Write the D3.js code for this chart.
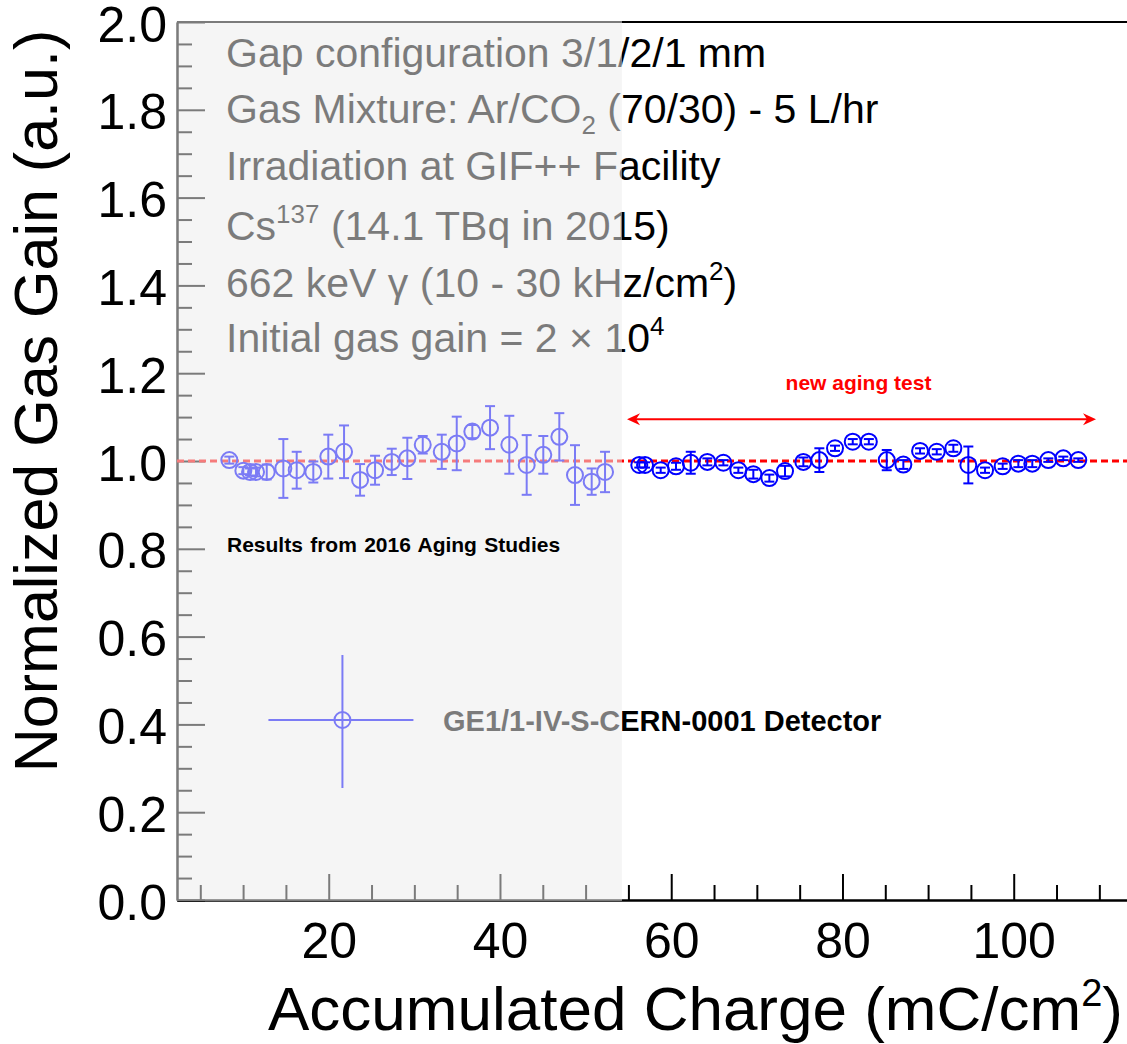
<!DOCTYPE html>
<html>
<head>
<meta charset="utf-8">
<script src="https://cdn.jsdelivr.net/npm/d3@7/dist/d3.min.js"></script>
<style>
  html, body { margin: 0; padding: 0; background: #fff; }
  svg { display: block; }
  text { font-family: "Liberation Sans", Arial, Helvetica, sans-serif; }
</style>
</head>
<body>
<svg id="chart" width="1127" height="1044"></svg>
<script>
// 2016 aging study: accumulated charge (mC/cm^2), normalized gain, error
const oldCharge = [8.39, 10.03, 10.81, 11.51, 12.76, 14.70, 16.26, 18.20, 19.95, 21.79,
  23.66, 25.41, 27.36, 29.18, 30.98, 33.20, 34.95, 36.77, 38.84, 41.09,
  43.12, 45.06, 46.93, 48.76, 50.71, 52.27];
const oldGain = [1.002, 0.978, 0.975, 0.975, 0.975, 0.983, 0.979, 0.975, 1.010, 1.021,
  0.957, 0.979, 0.998, 1.006, 1.037, 1.021, 1.040, 1.067, 1.076, 1.037,
  0.991, 1.014, 1.055, 0.968, 0.953, 0.975];
const oldErr = [0.008, 0.008, 0.008, 0.010, 0.017, 0.067, 0.042, 0.024, 0.050, 0.060,
  0.036, 0.033, 0.030, 0.047, 0.020, 0.039, 0.061, 0.015, 0.049, 0.066,
  0.068, 0.043, 0.054, 0.068, 0.030, 0.046];

// new aging test
const newCharge = [56.27, 56.94, 58.77, 60.56, 62.28, 64.22, 66.09, 67.84, 69.59, 71.46,
  73.29, 75.43, 77.30, 79.13, 81.20, 83.08, 85.17, 87.11, 89.06, 91.01,
  92.95, 94.70, 96.65, 98.71, 100.54, 102.17, 104.04, 105.79, 107.54];
const newGain = [0.991, 0.991, 0.979, 0.988, 0.996, 0.998, 0.996, 0.979, 0.970, 0.961,
  0.977, 0.998, 1.002, 1.029, 1.044, 1.044, 1.002, 0.992, 1.023, 1.021,
  1.029, 0.991, 0.979, 0.988, 0.994, 0.994, 1.002, 1.006, 1.002];
const newErr = [0.006, 0.006, 0.006, 0.008, 0.025, 0.008, 0.006, 0.006, 0.010, 0.008,
  0.012, 0.010, 0.027, 0.006, 0.006, 0.006, 0.023, 0.010, 0.006, 0.006,
  0.008, 0.042, 0.006, 0.006, 0.008, 0.008, 0.004, 0.004, 0.004];

const xMajorTicks = [20, 40, 60, 80, 100];
const xMinorTicks = [5, 10, 15, 25, 30, 35, 45, 50, 55, 65, 70, 75, 85, 90, 95, 105, 110];
const yMajorTicks = [0, 0.2, 0.4, 0.6, 0.8, 1.0, 1.2, 1.4, 1.6, 1.8, 2.0];
const yMinorTicks = d3.range(0, 41).map(i => i * 0.05).filter(v => Math.round(v * 100) % 20 !== 0);

const referenceGain = 1.0;
const oldRunEnd = 54.25;          // end of the 2016 campaign (shaded)
const arrowSpan = [54.84, 109.61]; // new aging test extent
const arrowLevel = 1.095;

const svg = d3.select("#chart");
const plot = { left: 177, right: 1127, top: 22, bottom: 900 };

const x = d3.scaleLinear().domain([2.28, 113.23]).range([plot.left, plot.right]);
const y = d3.scaleLinear().domain([0, 2]).range([plot.bottom, plot.top]);

const axisFont = 50;

// frame top line
svg.append("line")
  .attr("x1", plot.left).attr("x2", plot.right)
  .attr("y1", plot.top).attr("y2", plot.top)
  .attr("stroke", "#000").attr("stroke-width", 2);

// x axis (ticks point inward)
const gx = svg.append("g").attr("transform", `translate(0,${plot.bottom})`);
gx.call(d3.axisBottom(x).tickValues(xMinorTicks).tickFormat("").tickSizeInner(-15).tickSizeOuter(0));
const gxMaj = svg.append("g").attr("transform", `translate(0,${plot.bottom})`);
gxMaj.call(d3.axisBottom(x).tickValues(xMajorTicks).tickFormat(d3.format("d"))
  .tickSizeInner(-26).tickSizeOuter(0).tickPadding(22));
[gx, gxMaj].forEach(g => {
  g.selectAll("path.domain").attr("stroke", "#000").attr("stroke-width", 2);
  g.selectAll(".tick line").attr("stroke", "#000").attr("stroke-width", 2);
  g.selectAll(".tick text").attr("font-size", axisFont).attr("fill", "#000")
    .attr("font-family", "Liberation Sans, Arial, sans-serif");
});

// y axis
const gy = svg.append("g").attr("transform", `translate(${plot.left},0)`);
gy.call(d3.axisLeft(y).tickValues(yMinorTicks).tickFormat("").tickSizeInner(-15).tickSizeOuter(0));
const gyMaj = svg.append("g").attr("transform", `translate(${plot.left},0)`);
gyMaj.call(d3.axisLeft(y).tickValues(yMajorTicks).tickFormat(d3.format(".1f"))
  .tickSizeInner(-28).tickSizeOuter(0).tickPadding(10));
[gy, gyMaj].forEach(g => {
  g.selectAll("path.domain").attr("stroke", "#000").attr("stroke-width", 2);
  g.selectAll(".tick line").attr("stroke", "#000").attr("stroke-width", 2);
  g.selectAll(".tick text").attr("font-size", axisFont).attr("fill", "#000")
    .attr("dy", "0.38em")
    .attr("font-family", "Liberation Sans, Arial, sans-serif");
});

// axis titles
svg.append("text")
  .attr("transform", `translate(57,401) rotate(-90)`)
  .attr("text-anchor", "middle")
  .attr("font-size", 61)
  .attr("fill", "#000")
  .text("Normalized Gas Gain (a.u.)");

const xt = svg.append("text")
  .attr("x", 268).attr("y", 1030)
  .attr("font-size", 62)
  .attr("fill", "#000");
xt.append("tspan").text("Accumulated Charge (mC/cm");
xt.append("tspan").attr("font-size", 38).attr("dy", -24).text("2");
xt.append("tspan").attr("dy", 24).text(")");

// reference line at unity gain
svg.append("line")
  .attr("x1", plot.left).attr("x2", plot.right)
  .attr("y1", y(referenceGain)).attr("y2", y(referenceGain))
  .attr("stroke", "#ff0000").attr("stroke-width", 3)
  .attr("stroke-dasharray", "7,4");

// data points with error bars
function drawSeries(xs, ys, es, color) {
  const pts = xs.map((v, i) => ({ x: v, y: ys[i], e: es[i] }));
  const g = svg.append("g").attr("stroke", color).attr("stroke-width", 2).attr("fill", "none");
  const cap = 5;
  const p = g.selectAll("g.pt").data(pts).join("g").attr("class", "pt");
  p.append("line")
    .attr("x1", d => x(d.x)).attr("x2", d => x(d.x))
    .attr("y1", d => y(d.y + d.e)).attr("y2", d => y(d.y - d.e));
  p.append("line")
    .attr("x1", d => x(d.x) - cap).attr("x2", d => x(d.x) + cap)
    .attr("y1", d => y(d.y + d.e)).attr("y2", d => y(d.y + d.e));
  p.append("line")
    .attr("x1", d => x(d.x) - cap).attr("x2", d => x(d.x) + cap)
    .attr("y1", d => y(d.y - d.e)).attr("y2", d => y(d.y - d.e));
  p.append("circle")
    .attr("cx", d => x(d.x)).attr("cy", d => y(d.y)).attr("r", 8);
}
drawSeries(oldCharge, oldGain, oldErr, "#0000ff");
drawSeries(newCharge, newGain, newErr, "#0000ff");

// conditions text block
const infoFont = 41;
const info = svg.append("g").attr("font-size", infoFont).attr("fill", "#000");
const lines = [
  [{ t: "Gap configuration 3/1/2/1 mm" }],
  [{ t: "Gas Mixture: Ar/CO" }, { t: "2", sub: true }, { t: " (70/30) - 5 L/hr" }],
  [{ t: "Irradiation at GIF++ Facility" }],
  [{ t: "Cs" }, { t: "137", sup: true }, { t: " (14.1 TBq in 2015)" }],
  [{ t: "662 keV \u03B3 (10 - 30 kHz/cm" }, { t: "2", sup: true }, { t: ")" }],
  [{ t: "Initial gas gain = 2 \u00D7 10" }, { t: "4", sup: true }]
];
const baselines = [67, 123, 180, 240, 297, 352];
lines.forEach((parts, i) => {
  const t = info.append("text").attr("x", 226).attr("y", baselines[i]).attr("xml:space", "preserve");
  let shift = 0;
  parts.forEach(part => {
    const ts = t.append("tspan").text(part.t);
    if (part.sup || part.sub) {
      const d = part.sup ? -17 : 11;
      ts.attr("font-size", 26).attr("dy", d - shift);
      shift = d;
    } else if (shift !== 0) {
      ts.attr("dy", -shift);
      shift = 0;
    }
  });
});

// legend
const legX = x(21.6), legY = y(0.41);
const leg = svg.append("g").attr("stroke", "#0000ff").attr("stroke-width", 2).attr("fill", "none");
leg.append("line").attr("x1", legX - 74).attr("x2", legX + 71).attr("y1", legY).attr("y2", legY);
leg.append("line").attr("x1", legX).attr("x2", legX).attr("y1", legY - 65).attr("y2", legY + 68);
leg.append("circle").attr("cx", legX).attr("cy", legY).attr("r", 8);
svg.append("text")
  .attr("x", 443).attr("y", legY + 11)
  .attr("font-size", 29).attr("font-weight", "bold").attr("fill", "#000")
  .text("GE1/1-IV-S-CERN-0001 Detector");

// translucent band marking the 2016 campaign
svg.append("rect")
  .attr("x", plot.left - 1).attr("y", plot.top - 1)
  .attr("width", x(oldRunEnd) - plot.left + 1)
  .attr("height", plot.bottom - plot.top + 2)
  .attr("fill", "rgb(236,236,236)").attr("fill-opacity", 0.52);

svg.append("text")
  .attr("x", 227).attr("y", 552)
  .attr("font-size", 21).attr("font-weight", "bold").attr("fill", "#000")
  .attr("word-spacing", 1.5)
  .text("Results from 2016 Aging Studies");

// new aging test span
const ay = y(arrowLevel);
const ax0 = x(arrowSpan[0]), ax1 = x(arrowSpan[1]);
svg.append("line")
  .attr("x1", ax0 + 6).attr("x2", ax1 - 6).attr("y1", ay).attr("y2", ay)
  .attr("stroke", "#ff0000").attr("stroke-width", 2);
svg.append("path")
  .attr("d", `M${ax0},${ay} L${ax0 + 13},${ay - 6} L${ax0 + 9},${ay} L${ax0 + 13},${ay + 6} Z`)
  .attr("fill", "#ff0000");
svg.append("path")
  .attr("d", `M${ax1},${ay} L${ax1 - 13},${ay - 6} L${ax1 - 9},${ay} L${ax1 - 13},${ay + 6} Z`)
  .attr("fill", "#ff0000");
svg.append("text")
  .attr("x", (ax0 + ax1) / 2 - 3).attr("y", 390)
  .attr("text-anchor", "middle")
  .attr("font-size", 21).attr("font-weight", "bold").attr("fill", "#ff0000")
  .text("new aging test");
</script>
</body>
</html>
